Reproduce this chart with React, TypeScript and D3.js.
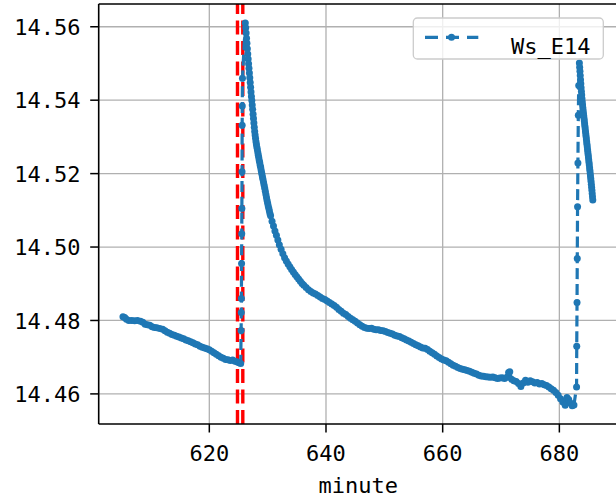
import React from 'react';
import * as d3 from 'd3';

// ---- data ----
const seriesName = 'Ws_E14';
const xLabel = 'minute';
const xTicks = [620, 640, 660, 680];
const yTicks = [14.46, 14.48, 14.5, 14.52, 14.54, 14.56];
const eventLines = [624.83, 625.74];

// segment before the first step
const minutesA = [605.2, 605.5, 605.8, 606.2, 606.7, 607.2, 607.7, 608.2, 608.6, 609.0, 609.4, 609.8, 610.2, 610.6, 611.0, 611.5, 612.0, 612.4, 612.8, 613.2, 613.6, 614.0, 614.4, 614.8, 615.2, 615.6, 616.0, 616.4, 616.8, 617.2, 617.6, 618.0, 618.4, 618.8, 619.2, 619.6, 620.0, 620.4, 620.8, 621.2, 621.6, 622.0, 622.4, 622.8, 623.2, 623.6, 624.0, 624.4, 624.8, 625.1, 625.38];
const valuesA = [14.481, 14.4808, 14.4803, 14.48, 14.48, 14.4799, 14.48, 14.4798, 14.4795, 14.479, 14.4788, 14.4787, 14.4783, 14.4781, 14.478, 14.4778, 14.4776, 14.4772, 14.4768, 14.4765, 14.4762, 14.476, 14.4757, 14.4755, 14.4752, 14.475, 14.4747, 14.4745, 14.4742, 14.4739, 14.4736, 14.4734, 14.473, 14.4727, 14.4725, 14.4723, 14.472, 14.4716, 14.4712, 14.4708, 14.4704, 14.47, 14.4697, 14.4694, 14.4693, 14.4691, 14.4692, 14.4689, 14.4687, 14.4685, 14.4683];

// first step up
const minutesB = [625.45, 625.48, 625.5, 625.53, 625.56, 625.58, 625.61, 625.63, 625.65, 625.68];
const valuesB = [14.4773, 14.4822, 14.486, 14.4955, 14.5036, 14.5105, 14.5205, 14.5332, 14.5384, 14.546];

// steep start of the long decay
const minutesC1 = [626.17, 626.24, 626.31, 626.38, 626.45, 626.52, 626.59, 626.66, 626.73, 626.8, 626.87, 626.94, 627.01, 627.08, 627.15, 627.22, 627.29, 627.36, 627.43, 627.5, 627.57, 627.64, 627.71, 627.78, 627.85, 627.92, 628.0, 628.08, 628.16, 628.24, 628.32, 628.4, 628.48, 628.56, 628.64, 628.72, 628.8, 628.88, 628.96, 629.04, 629.12, 629.2, 629.3, 629.4, 629.5, 629.6, 629.7, 629.8, 629.9, 630.0, 630.1, 630.2, 630.3, 630.4, 630.5];
const valuesC1 = [14.561, 14.5597, 14.5583, 14.5569, 14.5555, 14.554, 14.5526, 14.5512, 14.5499, 14.5487, 14.5474, 14.5461, 14.5448, 14.5435, 14.5422, 14.541, 14.5399, 14.5387, 14.5375, 14.5362, 14.535, 14.5338, 14.5326, 14.5315, 14.5305, 14.5296, 14.5287, 14.5279, 14.5271, 14.5264, 14.5257, 14.525, 14.5243, 14.5236, 14.523, 14.5223, 14.5217, 14.521, 14.5203, 14.5197, 14.519, 14.5184, 14.5176, 14.5168, 14.516, 14.5152, 14.5143, 14.5135, 14.5127, 14.5119, 14.5112, 14.5105, 14.5098, 14.5091, 14.5085];

// rest of the long decay
const minutesC2 = [630.75, 631.0, 631.25, 631.5, 631.75, 632.0, 632.3, 632.6, 632.9, 633.2, 633.5, 633.8, 634.1, 634.4, 634.7, 635.0, 635.3, 635.6, 635.9, 636.2, 636.6, 637.0, 637.4, 637.8, 638.2, 638.6, 639.0, 639.4, 639.8, 640.2, 640.6, 641.0, 641.4, 641.8, 642.2, 642.6, 643.0, 643.4, 643.8, 644.2, 644.6, 645.0, 645.4, 645.8, 646.2, 646.6, 647.0, 647.4, 647.8, 648.2, 648.6, 649.0, 649.4, 649.8, 650.2, 650.6, 651.0, 651.4, 651.8, 652.2, 652.6, 653.0, 653.4, 653.8, 654.2, 654.6, 655.0, 655.4, 655.8, 656.2, 656.6, 657.0, 657.4, 657.8, 658.2, 658.6, 659.0, 659.4, 659.8, 660.2, 660.6, 661.0, 661.4, 661.8, 662.2, 662.6, 663.0, 663.4, 663.8, 664.2, 664.6, 665.0, 665.4, 665.8, 666.2, 666.6, 667.0, 667.4, 667.8, 668.2, 668.6, 669.0, 669.4, 669.8, 670.2, 670.6, 671.0, 671.3, 671.5, 671.8, 672.2, 672.6, 673.0, 673.4, 673.8, 674.2, 674.6, 675.0, 675.4, 675.8, 676.2, 676.6, 677.0, 677.4, 677.8, 678.2, 678.6, 679.0, 679.4, 679.8, 680.2, 680.6, 681.0, 681.3, 681.6, 681.9, 682.2, 682.5];
const valuesC2 = [14.507, 14.5057, 14.5044, 14.5032, 14.5019, 14.5006, 14.4994, 14.4982, 14.4971, 14.4962, 14.4954, 14.4946, 14.4939, 14.4932, 14.4925, 14.4919, 14.4913, 14.4907, 14.4901, 14.4896, 14.489, 14.4884, 14.4879, 14.4875, 14.4872, 14.4868, 14.4864, 14.486, 14.4857, 14.4853, 14.4849, 14.4845, 14.4841, 14.4836, 14.483, 14.4825, 14.482, 14.4816, 14.4811, 14.4806, 14.4802, 14.4798, 14.4793, 14.4788, 14.4784, 14.4781, 14.4779, 14.4778, 14.4779, 14.4776, 14.4775, 14.4775, 14.4773, 14.4772, 14.477, 14.4767, 14.4765, 14.4763, 14.476, 14.4758, 14.4756, 14.4753, 14.475, 14.4747, 14.4744, 14.4741, 14.4737, 14.4734, 14.4731, 14.4728, 14.4725, 14.4724, 14.4721, 14.4716, 14.4712, 14.4708, 14.4703, 14.4699, 14.4695, 14.4692, 14.469, 14.4686, 14.4682, 14.4678, 14.4675, 14.4672, 14.4669, 14.4667, 14.4666, 14.4664, 14.4662, 14.4659, 14.4656, 14.4654, 14.4651, 14.4649, 14.4648, 14.4647, 14.4646, 14.4645, 14.4646, 14.4644, 14.4642, 14.4643, 14.4644, 14.4642, 14.4645, 14.4658, 14.466, 14.464, 14.4636, 14.4634, 14.4628, 14.462, 14.463, 14.4637, 14.4632, 14.4636, 14.4633, 14.463, 14.4631, 14.4627, 14.4628, 14.4625, 14.4623, 14.4619, 14.4614, 14.461, 14.4604, 14.4596, 14.4587, 14.4578, 14.4569, 14.459, 14.4585, 14.4575, 14.4568, 14.457];

// second step up
const minutesD = [682.95, 682.98, 683.03, 683.07, 683.12, 683.18, 683.25, 683.32];
const valuesD = [14.4619, 14.473, 14.4849, 14.4969, 14.511, 14.5229, 14.5359, 14.544];

// short decay at the end
const minutesE = [683.43, 683.48, 683.53, 683.58, 683.63, 683.68, 683.73, 683.78, 683.83, 683.88, 683.93, 683.98, 684.03, 684.08, 684.13, 684.18, 684.23, 684.28, 684.33, 684.38, 684.43, 684.48, 684.53, 684.58, 684.63, 684.68, 684.73, 684.78, 684.83, 684.88, 684.93, 684.98, 685.03, 685.08, 685.13, 685.18, 685.23, 685.28, 685.33, 685.38, 685.43, 685.48, 685.53, 685.58, 685.63, 685.68, 685.73];
const valuesE = [14.5501, 14.549, 14.5479, 14.5467, 14.5456, 14.5445, 14.5434, 14.5424, 14.5414, 14.5404, 14.5395, 14.5387, 14.5379, 14.5371, 14.5364, 14.5357, 14.535, 14.5343, 14.5336, 14.5329, 14.5322, 14.5315, 14.5308, 14.5301, 14.5294, 14.5287, 14.528, 14.5273, 14.5266, 14.5259, 14.5252, 14.5245, 14.5238, 14.5231, 14.5224, 14.5216, 14.5209, 14.5202, 14.5194, 14.5187, 14.5179, 14.5171, 14.5163, 14.5155, 14.5146, 14.5137, 14.5128];

const minutes = [...minutesA, ...minutesB, ...minutesC1, ...minutesC2, ...minutesD, ...minutesE];
const values = [...valuesA, ...valuesB, ...valuesC1, ...valuesC2, ...valuesD, ...valuesE];

// ---- layout ----
const W = 616;
const H = 501;
const L = 98.7;
const R = 617.7;
const T = 4;
const B = 424;
const BLUE = '#1f77b4';
const FONT = "'DejaVu Sans Mono', monospace";

export default function App() {
  const x = d3.scaleLinear().domain([601.04, 690.0]).range([L, R]);
  const y = d3.scaleLinear().domain([14.4518, 14.5662]).range([B, T]);
  const pts: [number, number][] = minutes.map((m, i) => [x(m), y(values[i])]);
  const linePath = d3.line()(pts) || '';
  const fmt = d3.format('.2f');

  return (
    <svg width={W} height={H} style={{ position: 'absolute', left: 0, top: 0, background: '#fff' }}>
      <rect x={0} y={0} width={W} height={H} fill="#fff" />
      {/* grid */}
      {xTicks.map((t) => (
        <line key={'gx' + t} x1={x(t)} x2={x(t)} y1={B} y2={T} stroke="#b0b0b0" strokeWidth={1.3} />
      ))}
      {yTicks.map((t) => (
        <line key={'gy' + t} x1={L} x2={R} y1={y(t)} y2={y(t)} stroke="#b0b0b0" strokeWidth={1.3} />
      ))}
      {/* event lines */}
      {eventLines.map((m) => (
        <line key={'ev' + m} x1={x(m)} x2={x(m)} y1={B} y2={T} stroke="#ff0000" strokeWidth={3.4} strokeDasharray="14,6.5" />
      ))}
      {/* series */}
      <path d={linePath} fill="none" stroke={BLUE} strokeWidth={3.2} strokeDasharray="11,4.8" />
      {pts.map((p, i) => (
        <circle key={'p' + i} cx={p[0]} cy={p[1]} r={3.5} fill={BLUE} />
      ))}
      {/* spines */}
      <line x1={L} x2={L} y1={T} y2={B} stroke="#000" strokeWidth={1.6} />
      <line x1={L} x2={R} y1={B} y2={B} stroke="#000" strokeWidth={1.6} />
      <line x1={L} x2={R} y1={T} y2={T} stroke="#000" strokeWidth={1.6} />
      <line x1={R} x2={R} y1={T} y2={B} stroke="#000" strokeWidth={1.6} />
      {/* x ticks */}
      {xTicks.map((t) => (
        <g key={'xt' + t}>
          <line x1={x(t)} x2={x(t)} y1={B} y2={B + 8.5} stroke="#000" strokeWidth={1.5} />
          <text x={x(t)} y={461} textAnchor="middle" fontFamily={FONT} fontSize={22} fill="#000">
            {String(t)}
          </text>
        </g>
      ))}
      {/* y ticks */}
      {yTicks.map((t) => (
        <g key={'yt' + t}>
          <line x1={L - 8.5} x2={L} y1={y(t)} y2={y(t)} stroke="#000" strokeWidth={1.5} />
          <text x={80.5} y={y(t) + 8.2} textAnchor="end" fontFamily={FONT} fontSize={22} fill="#000">
            {fmt(t)}
          </text>
        </g>
      ))}
      <text x={(L + R) / 2} y={493} textAnchor="middle" fontFamily={FONT} fontSize={22} fill="#000">
        {xLabel}
      </text>
      {/* legend */}
      <g>
        <rect x={413.3} y={18} width={190} height={41} rx={4} ry={4} fill="#fff" fillOpacity={0.8} stroke="#cccccc" strokeWidth={1.3} />
        <line x1={425} x2={478.3} y1={37.3} y2={37.3} stroke={BLUE} strokeWidth={3.2} strokeDasharray="13,8" />
        <circle cx={451.5} cy={37.3} r={3.5} fill={BLUE} />
        <text x={511} y={54} fontFamily={FONT} fontSize={22} fill="#000">
          {seriesName}
        </text>
      </g>
    </svg>
  );
}
